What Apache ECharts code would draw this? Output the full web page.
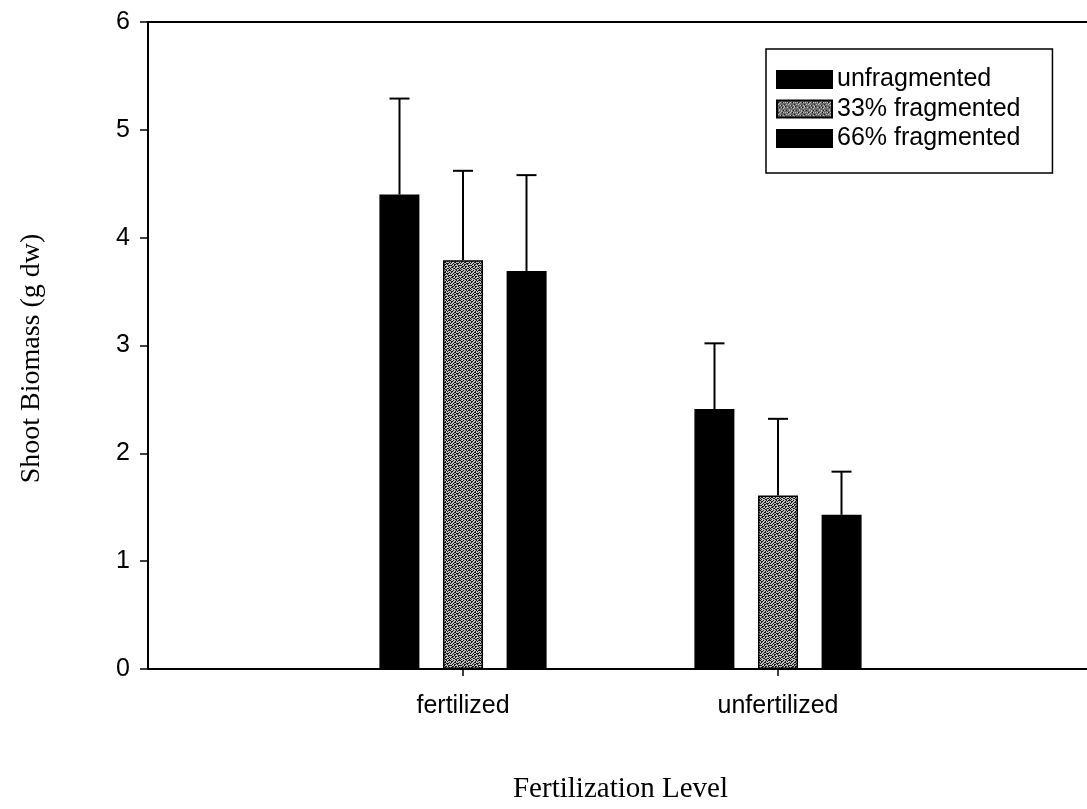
<!DOCTYPE html>
<html>
<head>
<meta charset="utf-8">
<script src="https://cdn.jsdelivr.net/npm/echarts@6/dist/echarts.min.js"></script>
<style>
html,body{margin:0;padding:0;background:#fff;overflow:hidden;}
#chart{width:1093px;height:809px;}
</style>
</head>
<body>
<div id="chart"></div>
<script>
// ---- data ----
var categories = ['', 'fertilized', 'unfertilized', ''];
var seriesNames = ['unfragmented', '33% fragmented', '66% fragmented'];
var unfragmented = [null, 4.40, 2.41, null];
var frag33 = [null, 3.79, 1.61, null];
var frag66 = [null, 3.69, 1.43, null];
var err_unfragmented = [null, 0.89, 0.61, null];
var err_frag33 = [null, 0.83, 0.71, null];
var err_frag66 = [null, 0.89, 0.40, null];
var yTicks = [0, 1, 2, 3, 4, 5, 6];

// ---- stipple texture for 33% bars ----
function makePattern() {
  var c = document.createElement('canvas');
  c.width = 10; c.height = 10;
  var ctx = c.getContext('2d');
  ctx.fillStyle = '#bdbdbd';
  ctx.fillRect(0, 0, 10, 10);
  var map = [
    '1001001011',
    '0110010100',
    '0100110001',
    '1001001110',
    '0010110100',
    '1100100011',
    '0011011010',
    '0110010001',
    '1001100110',
    '0100011001'
  ];
  ctx.fillStyle = '#1a1a1a';
  for (var y = 0; y < 10; y++) for (var x = 0; x < 10; x++) if (map[y][x] === '1') ctx.fillRect(x, y, 1, 1);
  return c;
}
var stipple = {image: makePattern(), repeat: 'repeat'};

var chart = echarts.init(document.getElementById('chart'), null, {renderer: 'canvas'});
var BAR_W = 40;
var OFFSET = 63.5;

var valuesList = [unfragmented, frag33, frag66];
var errList = [err_unfragmented, err_frag33, err_frag66];
var colors = ['#000000', stipple, '#000000'];

var series = [];
valuesList.forEach(function (vals, i) {
  series.push({
    name: seriesNames[i],
    type: 'bar',
    data: vals,
    barWidth: BAR_W,
    barGap: '59%',
    itemStyle: {color: colors[i], borderColor: '#000', borderWidth: 1.5},
    emphasis: {disabled: true},
    z: 2
  });
});
valuesList.forEach(function (vals, i) {
  var d = [];
  vals.forEach(function (v, k) {
    if (v != null) d.push([k, v, v + errList[i][k]]);
  });
  series.push({
    type: 'custom',
    name: 'err' + i,
    data: d,
    z: 3,
    silent: true,
    renderItem: function (params, api) {
      var base = api.coord([api.value(0), api.value(1)]);
      var top = api.coord([api.value(0), api.value(2)]);
      var x = base[0] + (i - 1) * OFFSET;
      var style = {stroke: '#000', lineWidth: 2};
      return {
        type: 'group',
        children: [
          {type: 'line', shape: {x1: x, y1: base[1], x2: x, y2: top[1]}, style: style},
          {type: 'line', shape: {x1: x - 10, y1: top[1], x2: x + 10, y2: top[1]}, style: style}
        ]
      };
    }
  });
});

var option = {
  backgroundColor: '#ffffff',
  animation: false,
  grid: {
    left: 148, top: 22, right: 0, bottom: 139,
    show: true, borderColor: '#000', borderWidth: 2, backgroundColor: 'transparent'
  },
  legend: {
    data: seriesNames,
    orient: 'vertical',
    left: 766, top: 49,
    padding: [18, 32, 22, 10],
    itemWidth: 55, itemHeight: 17, itemGap: 4.5,
    borderColor: '#000', borderWidth: 1.5,
    icon: 'rect',
    selectedMode: false,
    textStyle: {fontFamily: 'Liberation Sans', fontSize: 25, color: '#000', lineHeight: 25}
  },
  xAxis: {
    type: 'category',
    data: categories,
    boundaryGap: false,
    name: 'Fertilization Level',
    nameLocation: 'middle',
    nameGap: 106,
    nameTextStyle: {fontFamily: 'Liberation Serif', fontSize: 29, color: '#000', verticalAlign: 'top'},
    axisLine: {show: true, lineStyle: {color: '#000', width: 2}},
    axisTick: {show: true, length: 7, lineStyle: {color: '#000', width: 1.5},
      interval: function (idx, val) { return val !== ''; }},
    axisLabel: {fontFamily: 'Liberation Sans', fontSize: 25, color: '#000', margin: 25,
      interval: function (idx, val) { return val !== ''; }},
    splitLine: {show: false}
  },
  yAxis: {
    type: 'value',
    min: yTicks[0], max: yTicks[yTicks.length - 1], interval: 1,
    name: 'Shoot Biomass (g dw)',
    nameLocation: 'middle',
    nameGap: 102,
    nameRotate: 90,
    nameTextStyle: {fontFamily: 'Liberation Serif', fontSize: 28, color: '#000', padding: [0, 26, 0, 0]},
    axisLine: {show: true, lineStyle: {color: '#000', width: 2}},
    axisTick: {show: true, length: 8, lineStyle: {color: '#000', width: 1.5}},
    axisLabel: {fontFamily: 'Liberation Sans', fontSize: 25, color: '#000', margin: 18},
    splitLine: {show: false}
  },
  series: series
};
chart.setOption(option);
</script>
</body>
</html>
